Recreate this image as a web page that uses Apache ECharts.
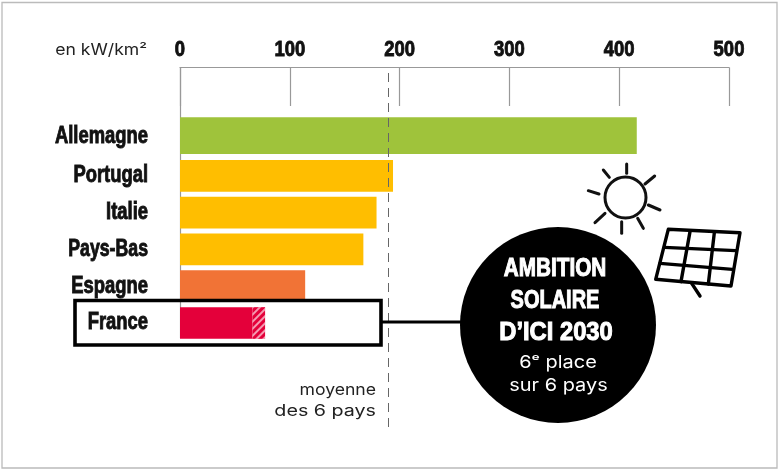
<!DOCTYPE html>
<html><head><meta charset="utf-8">
<style>html,body{margin:0;padding:0;background:#fff}#c{width:780px;height:471px}</style>
<script src="https://cdn.jsdelivr.net/npm/echarts@6/dist/echarts.min.js"></script>
</head><body><div id="c"></div>
<script>
var topCountry = ['Allemagne'];
var topValues = [416];
var countries = ['Portugal', 'Italie', 'Pays-Bas', 'Espagne', 'France'];
var values = [194, 179, 167, 114, 66];
var hatched = [null, null, null, null, 11.5];
var moyenne = 190;
var ticks = [0, 100, 200, 300, 400, 500];
var colors = {Allemagne:'#9FC33B', Portugal:'#FFBE00', Italie:'#FFBE00', 'Pays-Bas':'#FFBE00', Espagne:'#F17336', France:'#E4003A'};

var chart = echarts.init(document.getElementById('c'), null, {renderer:'canvas'});

function hiddenX(i){return {gridIndex:i,type:'value',min:0,max:500,interval:100,show:false};}
function catAxis(i,data){return {gridIndex:i,type:'category',data:data,inverse:true,
  axisLine:{show:false},axisTick:{show:false},axisLabel:{show:false}};}
function seg(a,b,c,d,w,col){return {type:'line',z:10,silent:true,shape:{x1:a,y1:b,x2:c,y2:d},style:{stroke:col||'#111',lineWidth:w||3,lineCap:'round'}};}
function sunRay(a,b,c,d){return seg(450+a/3,150+b/3,450+c/3,150+d/3,3);}
function pan(a,b,c,d){return seg(645+a/3,220+b/3,645+c/3,220+d/3,3.4,'#000');}
function txt(t,x,y,font,fill,align,sx,heavy){
  return {type:'text',z:11,silent:true,x:x,y:y,scaleX:sx||1,
    style:{text:t,x:0,y:0,font:font,fill:fill,textAlign:align||'center',textVerticalAlign:'middle',
      stroke:heavy?fill:null,lineWidth:heavy||0}};}
var headFont='bold 25px "Liberation Sans",sans-serif';
var sub='17.5px Inter,"Open Sans",sans-serif';
var light='16px Inter,"Open Sans",sans-serif';
var labelFont='bold 23px "Liberation Sans",sans-serif';
var tickFont='bold 22px "Liberation Sans",sans-serif';

chart.setOption({
  animation:false,
  backgroundColor:'#fff',
  grid:[
    {left:180,width:549,top:67.5,height:359.5},
    {left:180,width:549,top:117.3,height:36.7},
    {left:180,width:549,top:157.4,height:184}
  ],
  xAxis:[
    {gridIndex:0,type:'value',position:'top',min:0,max:500,interval:100,
     axisLine:{show:true,onZero:false,lineStyle:{color:'#999',width:1.2}},
     axisTick:{show:true,inside:true,length:38.5,lineStyle:{color:'#999',width:1.2}},
     splitLine:{show:false},axisLabel:{show:false}},
    hiddenX(1),hiddenX(2)
  ],
  yAxis:[
    {gridIndex:0,type:'value',min:0,max:1,show:false},
    catAxis(1,topCountry),
    catAxis(2,countries)
  ],
  series:[
    {type:'line',xAxisIndex:0,yAxisIndex:0,data:[],z:6,silent:true,
     markLine:{silent:true,symbol:'none',label:{show:false},animation:false,z:6,
       lineStyle:{color:'#666',type:[9,6],width:1},data:[{xAxis:moyenne}]}},
    {type:'bar',xAxisIndex:1,yAxisIndex:1,barWidth:36.7,z:3,silent:true,
     data:topValues.map(function(v,i){return {value:v,itemStyle:{color:colors[topCountry[i]]}};})},
    {type:'bar',xAxisIndex:2,yAxisIndex:2,stack:'a',barWidth:31.7,z:3,silent:true,
     data:values.map(function(v,i){return {value:v,itemStyle:{color:colors[countries[i]]}};})},
    {type:'bar',xAxisIndex:2,yAxisIndex:2,stack:'a',barWidth:31.7,z:3,silent:true,
     data:hatched.map(function(v,i){return v===null?null:{value:v,itemStyle:{color:colors[countries[i]],
        decal:{symbol:'rect',color:'rgba(255,255,255,0.6)',dashArrayX:[1,0],dashArrayY:[1.5,2.5],rotation:-Math.PI/4}}};})}
  ]
});

// Narrow heavy labels: text placed through the chart's own axes, squeezed horizontally.
var els = [
  {type:'rect',z:0,silent:true,shape:{x:2,y:2.5,width:775,height:465.5},style:{fill:'none',stroke:'#bbb',lineWidth:1.3}},
  {type:'line',z:2,silent:true,shape:{x1:180.5,y1:67.5,x2:180.5,y2:338},style:{stroke:'#999',lineWidth:1.2}},
  {type:'rect',z:10,silent:true,shape:{x:75,y:300.5,width:306,height:44.5},style:{fill:'none',stroke:'#000',lineWidth:3.6}},
  {type:'line',z:10,silent:true,shape:{x1:382,y1:322,x2:465,y2:322},style:{stroke:'#000',lineWidth:3}},
  {type:'circle',z:10,silent:true,shape:{cx:558,cy:325,r:98},style:{fill:'#000'}},
  txt('en kW/km\u00B2',147,50,light,'#222','right',1.1),
  txt('moyenne',376,390,light,'#222','right',1.1),
  txt('des 6 pays',376,411,light,'#222','right',1.23),
  txt('AMBITION',555,269,headFont,'#fff','center',0.83,1),
  txt('SOLAIRE',555,301,headFont,'#fff','center',0.8,1),
  txt('D\u2019ICI 2030',556,333,headFont,'#fff','center',0.95,1),
  txt('6\u1D49 place',558,363,sub,'#fff','center',1.14),
  txt('sur 6 pays',558.5,386,sub,'#fff','center',1.14),
  {type:'circle',z:10,silent:true,shape:{cx:625.5,cy:197.5,r:20.5},style:{fill:'none',stroke:'#111',lineWidth:3}},
  sunRay(530,42,530,70),sunRay(460,60,478,82),sunRay(614,78,585,102),sunRay(415,122,447,132),
  sunRay(595,165,630,180),sunRay(435,218,465,190),sunRay(515,215,515,250),sunRay(563,205,580,235),
  {type:'polygon',z:10,silent:true,shape:{points:[[668.3,229.3],[740,232.7],[731,286],[655.7,279.3]]},style:{fill:'none',stroke:'#000',lineWidth:3.4,lineJoin:'round'}},
  pan(58,82,272,92),pan(45,130,262,148),pan(135,35,108,185),pan(208,38,190,192),pan(140,190,165,228)
];
ticks.forEach(function(t){
  var x = chart.convertToPixel({xAxisIndex:0}, t);
  els.push(txt(String(t),x,50,tickFont,'#111','center',0.84,0.9));
});
topCountry.forEach(function(n){
  els.push(txt(n,148,chart.convertToPixel({yAxisIndex:1}, n)+1,labelFont,'#111','right',0.8,0.9));
});
countries.forEach(function(n){
  els.push(txt(n,148,chart.convertToPixel({yAxisIndex:2}, n),labelFont,'#111','right',n==='Pays-Bas'?0.77:0.8,0.9));
});
chart.setOption({graphic:{elements:els}});
</script></body></html>
